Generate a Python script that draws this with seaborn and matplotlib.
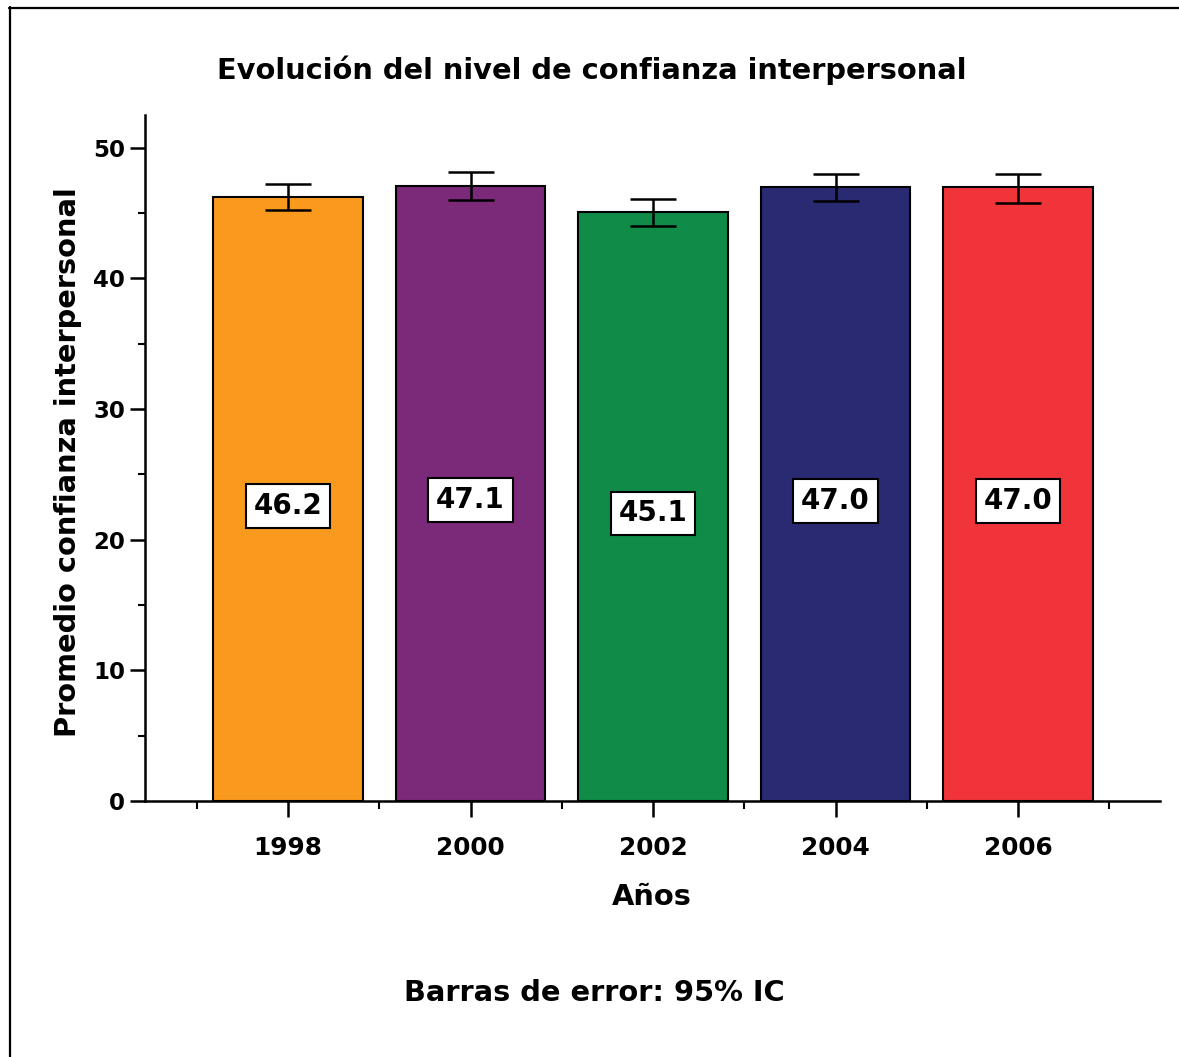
import numpy as np
import pandas as pd
import matplotlib
matplotlib.use("Agg")
import matplotlib.pyplot as plt
from matplotlib.lines import Line2D
from matplotlib.ticker import MultipleLocator, FixedLocator
import seaborn as sns

# Mean interpersonal trust by survey year, with 95% confidence limits
years = ["1998", "2000", "2002", "2004", "2006"]
means = [46.2, 47.1, 45.1, 47.0, 47.0]
ci_low = [45.2, 46.0, 44.0, 45.9, 45.8]
ci_high = [47.2, 48.1, 46.1, 48.0, 48.0]
bar_colors = ["#F99A1F", "#7B2979", "#108C48", "#292A72", "#F0343A"]

df = pd.DataFrame({"year": years, "mean": means})

sns.set_theme(style="white")
plt.rcParams["font.family"] = ["DejaVu Sans"]
plt.rcParams["font.weight"] = "bold"

W, H = 1179, 1057
fig = plt.figure(figsize=(W / 100, H / 100), dpi=100)
ax = fig.add_axes([145 / W, 1 - 801 / H, 1015 / W, 686 / H])

sns.barplot(data=df, x="year", y="mean", hue="year", palette=bar_colors,
            saturation=1, legend=False, width=0.82, edgecolor="black",
            linewidth=1.5, errorbar=None, ax=ax, zorder=2)

m = np.array(means)
yerr = np.vstack([m - np.array(ci_low), np.array(ci_high) - m])
ax.errorbar(np.arange(len(years)), m, yerr=yerr, fmt="none", ecolor="black",
            elinewidth=1.8, capsize=16.5, capthick=1.8, zorder=3)

# value boxes inside each bar
for i, v in enumerate(means):
    ax.annotate(f"{v:.1f}", xy=(i, v / 2), xytext=(0, -5), textcoords="offset points",
                ha="center", va="center", fontsize=20, fontweight="bold", color="black",
                bbox=dict(boxstyle="square,pad=0.28", facecolor="white",
                          edgecolor="black", linewidth=1.5), zorder=4)

ax.set_xlim(-0.784, 4.778)
ax.set_ylim(0, 52.5)

for s in ["top", "right"]:
    ax.spines[s].set_visible(False)
for s in ["left", "bottom"]:
    ax.spines[s].set_linewidth(1.8)
    ax.spines[s].set_color("black")

ax.yaxis.set_major_locator(MultipleLocator(10))
ax.yaxis.set_minor_locator(FixedLocator([5, 15, 25, 35, 45]))
ax.xaxis.set_minor_locator(FixedLocator(np.arange(-0.5, 5.0, 1.0)))

ax.tick_params(axis="y", which="major", direction="out", length=10.8, width=1.8,
               color="black", pad=3.5, labelsize=16.5, left=True)
ax.tick_params(axis="y", which="minor", direction="out", length=5, width=1.5,
               color="black", left=True)
ax.tick_params(axis="x", which="major", direction="out", length=11.5, width=1.8,
               color="black", pad=14, labelsize=17.8, bottom=True)
ax.tick_params(axis="x", which="minor", direction="out", length=5.8, width=1.5,
               color="black", bottom=True)
for lab in ax.get_xticklabels() + ax.get_yticklabels():
    lab.set_fontweight("bold")
    lab.set_color("black")

ax.set_xlabel("")
ax.set_ylabel("")
ax.grid(False)

fig.text(592 / W, 1 - 70 / H, "Evolución del nivel de confianza interpersonal",
         ha="center", va="center", fontsize=20.8, fontweight="bold", color="black")
fig.text(68 / W, 1 - 462 / H, "Promedio confianza interpersonal", rotation=90,
         ha="center", va="center", fontsize=20.8, fontweight="bold", color="black")
fig.text(652 / W, 1 - 897 / H, "Años", ha="center", va="center",
         fontsize=20.8, fontweight="bold", color="black")
fig.text(594 / W, 1 - 993 / H, "Barras de error: 95% IC", ha="center", va="center",
         fontsize=20.8, fontweight="bold", color="black")

# frame lines along the top and left edges
fig.add_artist(Line2D([9 / W, 1.0], [1 - 7.7 / H, 1 - 7.7 / H],
                      transform=fig.transFigure, color="black", linewidth=1.6))
fig.add_artist(Line2D([10 / W, 10 / W], [0.0, 1 - 7 / H],
                      transform=fig.transFigure, color="black", linewidth=1.6))

fig.savefig("out.png", dpi=100, facecolor="white")
